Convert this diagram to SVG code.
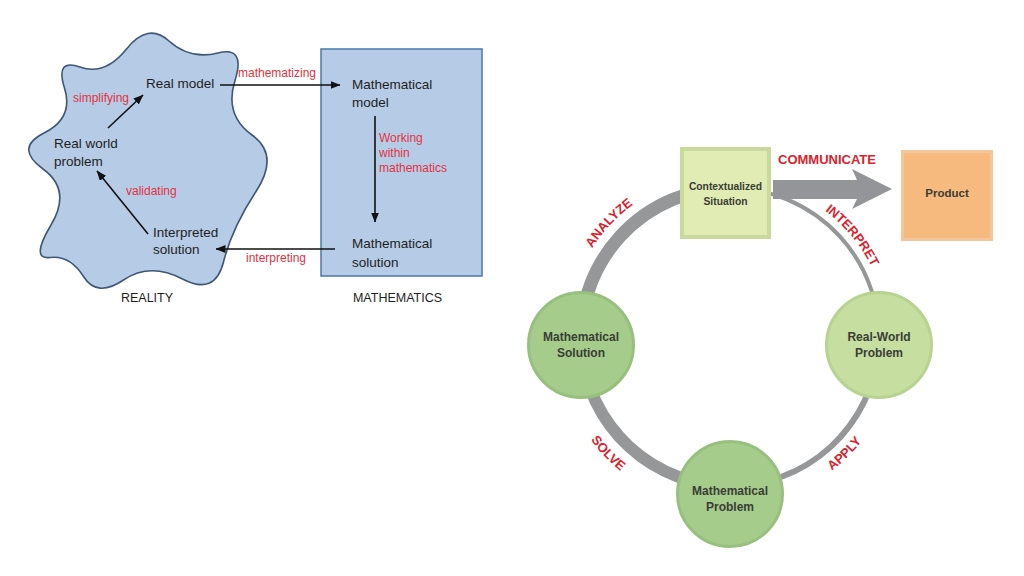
<svg xmlns="http://www.w3.org/2000/svg" width="1024" height="576" viewBox="0 0 1024 576">
<defs>
<marker id="ah" markerUnits="userSpaceOnUse" markerWidth="10" markerHeight="8" refX="9.5" refY="4" orient="auto">
<path d="M0,0 L10,4 L0,8 Z" fill="#111"/>
</marker>
<path id="pAnalyze" d="M570.4,299.3 A164,164 0 0,1 682.9,179.9"/>
<path id="pInterpret" d="M784.8,188.8 A158,158 0 0,1 885.7,310.4"/>
<path id="pSolve" d="M561.8,377.7 A173,173 0 0,0 681.2,503"/>
<path id="pApply" d="M772.1,499.6 A168,168 0 0,0 891.9,381.9"/>
</defs>
<style>
.blk{font-family:"Liberation Sans",Arial,sans-serif;font-size:13.5px;fill:#1e1e1e}
.red{font-family:"Liberation Sans",Arial,sans-serif;font-size:12px;fill:#e2323f}
.cap{font-family:"Liberation Sans",Arial,sans-serif;font-size:12.5px;fill:#1e1e1e;text-anchor:middle}
.ln{stroke:#111;stroke-width:1.6;fill:none;marker-end:url(#ah)}
.ring{fill:none;stroke:#959799}
.lbl{font-family:"Liberation Sans",Arial,sans-serif;font-size:13px;font-weight:bold;fill:#d9232e}
.nt{font-family:"Liberation Sans",Arial,sans-serif;font-size:12px;font-weight:bold;fill:#3a3d35;text-anchor:middle}
.dk{fill:#a6cc8c;stroke:#97bf7e;stroke-width:3}
.lt{fill:#c6dea0;stroke:#b6d38f;stroke-width:3}
</style>
<rect width="1024" height="576" fill="#ffffff"/>

<g id="reality">
<path d="M126.5,49 Q148,22 169,41 Q190,60 218,53 Q246,46 235,80.5 Q224,115 252,135 Q280,155 256,191.5 Q232,228 223.5,262 Q215,296 182.5,279 Q150,262 123.5,280 Q97,298 83.5,276.5 Q70,255 50,257.5 Q30,260 51,225 Q72,190 43,169 Q14,148 44,133 Q74,118 64.5,88 Q55,58 80,67 Q105,76 126.5,49 Z" fill="#b6cce6" stroke="#3f5676" stroke-width="1.6"/>
<text class="cap" x="147" y="302">REALITY</text>
</g>
<g id="mathematics">
<rect x="321" y="49" width="161" height="227" fill="#b6cce6" stroke="#4a77ad" stroke-width="1.5"/>
<text class="cap" x="397.5" y="302">MATHEMATICS</text>
</g>
<g id="real-model"><text class="blk" x="146" y="88">Real model</text></g>
<g id="real-world-problem"><text class="blk" x="54" y="148">Real world</text><text class="blk" x="54" y="166">problem</text></g>
<g id="interpreted-solution"><text class="blk" x="153" y="237">Interpreted</text><text class="blk" x="153" y="254">solution</text></g>
<g id="mathematical-model"><text class="blk" x="352" y="89">Mathematical</text><text class="blk" x="352" y="107">model</text></g>
<g id="mathematical-solution"><text class="blk" x="352" y="248">Mathematical</text><text class="blk" x="352" y="267">solution</text></g>

<g id="connectors">
<line class="ln" x1="220" y1="85" x2="340" y2="85"/>
<line class="ln" x1="375" y1="116" x2="375" y2="222"/>
<line class="ln" x1="335" y1="249" x2="216" y2="249"/>
<line class="ln" x1="148" y1="234" x2="97" y2="171"/>
<line class="ln" x1="108" y1="128" x2="143" y2="95"/>
<text class="red" x="238" y="77">mathematizing</text>
<text class="red" x="379" y="142">Working</text>
<text class="red" x="379" y="157">within</text>
<text class="red" x="379" y="172">mathematics</text>
<text class="red" x="246" y="262">interpreting</text>
<text class="red" x="126" y="195">validating</text>
<text class="red" x="73" y="102">simplifying</text>

<path class="ring" stroke-width="13" d="M581.6,350 A149,149 0 0,1 730,188"/>
<path class="ring" stroke-width="4" d="M730,188 A149,149 0 0,1 878.4,350"/>
<path class="ring" stroke-width="6" d="M878.4,350 A149,149 0 0,1 730,486"/>
<path class="ring" stroke-width="12" d="M730,486 A149,149 0 0,1 581.6,350"/>
<polygon points="773,180 857,180 852,169 892,189 852,209 857,199 773,199" fill="#939598"/>
<text class="lbl" x="778" y="164">COMMUNICATE</text>
<text class="lbl"><textPath href="#pAnalyze" startOffset="50%" text-anchor="middle">ANALYZE</textPath></text>
<text class="lbl"><textPath href="#pInterpret" startOffset="50%" text-anchor="middle">INTERPRET</textPath></text>
<text class="lbl"><textPath href="#pSolve" startOffset="50%" text-anchor="middle">SOLVE</textPath></text>
<text class="lbl"><textPath href="#pApply" startOffset="50%" text-anchor="middle">APPLY</textPath></text>
</g>

<g id="contextualized-situation">
<rect x="682" y="149" width="87" height="88" fill="#e1ebb4" stroke="#c9d99b" stroke-width="4"/>
<text class="nt" x="725.5" y="190" style="font-size:10.3px">Contextualized</text>
<text class="nt" x="725.5" y="205" style="font-size:10.3px">Situation</text>
</g>
<g id="product">
<rect x="902.5" y="151.5" width="89" height="88" fill="#f6b97e" stroke="#f3c69c" stroke-width="3"/>
<text class="nt" x="947" y="197" style="font-size:11.5px">Product</text>
</g>
<g id="node-math-solution">
<circle class="dk" cx="581" cy="345" r="52.5"/>
<text class="nt" x="581" y="341">Mathematical</text>
<text class="nt" x="581" y="357">Solution</text>
</g>
<g id="node-real-world">
<circle class="lt" cx="879" cy="345" r="52.5"/>
<text class="nt" x="879" y="341">Real-World</text>
<text class="nt" x="879" y="357">Problem</text>
</g>
<g id="node-math-problem">
<circle class="dk" cx="730" cy="494" r="52.5"/>
<text class="nt" x="730" y="495">Mathematical</text>
<text class="nt" x="730" y="511">Problem</text>
</g>
</svg>
